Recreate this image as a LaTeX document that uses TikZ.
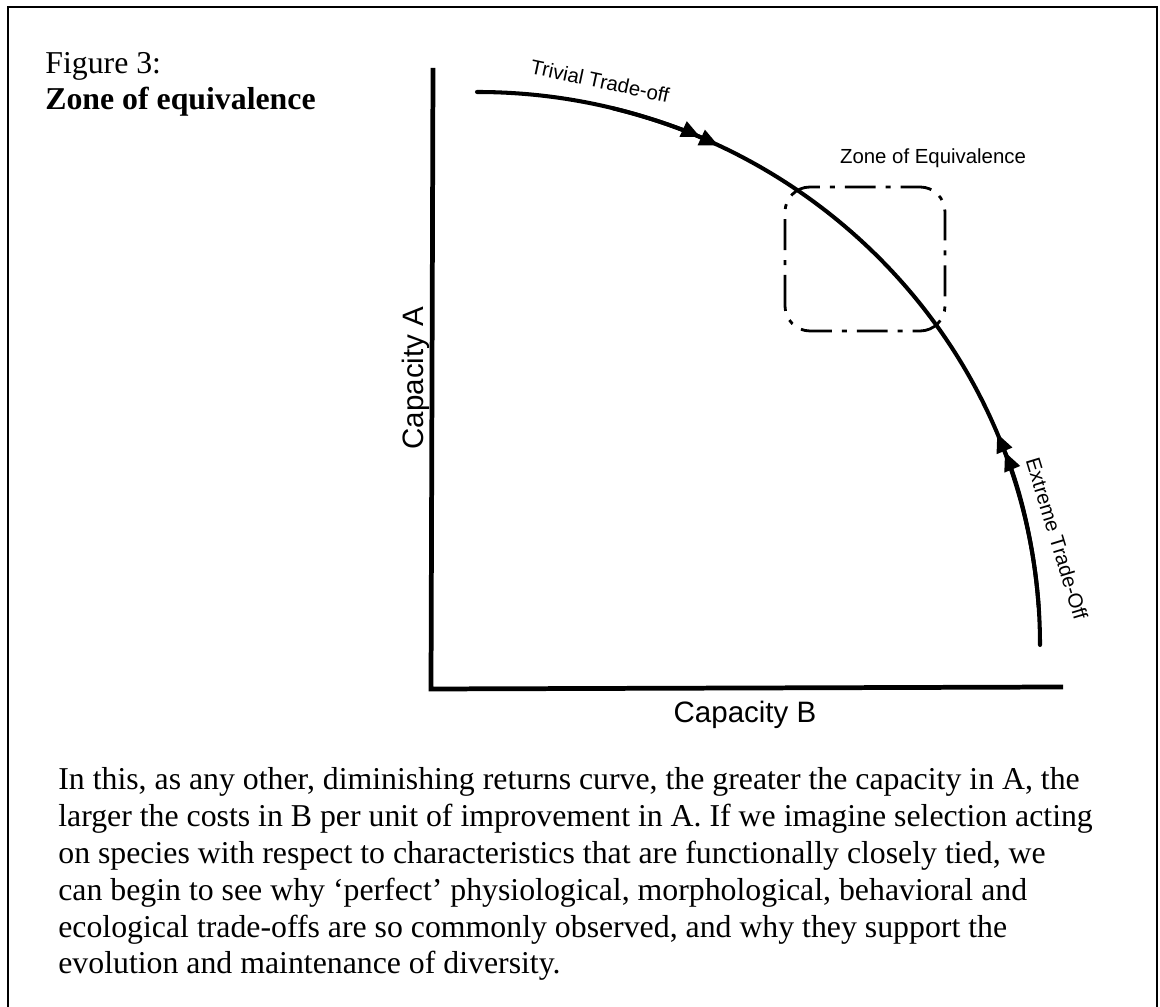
\documentclass[tikz,border=0pt]{standalone}
\usepackage{fontspec}
\setmainfont{Liberation Serif}
\newfontfamily\labelfont{Liberation Sans}
\usetikzlibrary{arrows.meta}

\begin{document}
\begin{tikzpicture}[x=0.02cm,y=0.02cm,
  outerframe/.style={line width=1.1pt},
  axisline/.style={line width=2.7pt, line join=miter},
  tradecurve/.style={line width=2.3pt, line cap=round},
  zonebox/.style={line width=1.6pt, rounded corners=0.5cm, dash pattern=on 0.62cm off 0.2cm on 0.1cm off 0.2cm},
  dbltip/.style={-{Triangle[length=0.38cm,width=0.32cm,sep=0.02cm]Triangle[length=0.38cm,width=0.32cm]}},
  bodytext/.style={font=\fontsize{18.1pt}{21pt}\selectfont, inner sep=0pt},
  sanslabel/.style={font=\labelfont\fontsize{16.8pt}{20pt}\selectfont, inner sep=0pt},
  smalllabel/.style={font=\labelfont\fontsize{11.6pt}{13pt}\selectfont, inner sep=0pt}
]
\useasboundingbox (0,0) rectangle (1160,1007);

% outer frame
\draw[outerframe] (8,0) -- (8,1000) -- (1157,1000) -- (1157,0);

% heading
\node[bodytext, anchor=base west] (fig) at (45,933) {Figure 3:};
\node[bodytext, anchor=base west] (title) at (45,897) {\bfseries Zone of equivalence};

% axes
\coordinate (ytop) at (433,939);
\coordinate (corner) at (431,318);
\coordinate (xend) at (1063,320);
\draw[axisline] (ytop) -- (corner) -- (xend);
\node[sanslabel, anchor=base] (capB) at (745,284) {Capacity B};
\node[sanslabel, rotate=90, anchor=base] (capA) at (423,629) {Capacity A};

% zone of equivalence box
\draw[zonebox] (785,676) rectangle (945,820);
\node[smalllabel, anchor=base] (zone) at (933,843) {Zone of Equivalence};

% trade-off curve
\coordinate (O) at (477,362);
\draw[tradecurve] (O) ++(90:563 and 553) arc[start angle=90, end angle=0, x radius=563, y radius=553];
\draw[tradecurve, dbltip] (O) ++(76:563 and 553) arc[start angle=76, end angle=64.6, x radius=563, y radius=553];
\draw[tradecurve, dbltip] (O) ++(4:563 and 553) arc[start angle=4, end angle=22.5, x radius=563, y radius=553];

\node[smalllabel, rotate=-12] (triv) at (600,926) {Trivial Trade-off};
\node[smalllabel, rotate=-73] (ext) at (1057,468) {Extreme Trade-Off};

% caption paragraph
\node[bodytext, anchor=base west] (l1) at (58,217) {In this, as any other, diminishing returns curve, the greater the capacity in A, the};
\node[bodytext, anchor=base west] (l2) at (58,180.2) {larger the costs in B per unit of improvement in A. If we imagine selection acting};
\node[bodytext, anchor=base west] (l3) at (58,143.4) {on species with respect to characteristics that are functionally closely tied, we};
\node[bodytext, anchor=base west] (l4) at (58,106.6) {can begin to see why ‘perfect’ physiological, morphological, behavioral and};
\node[bodytext, anchor=base west] (l5) at (58,69.8) {ecological trade-offs are so commonly observed, and why they support the};
\node[bodytext, anchor=base west] (l6) at (58,33) {evolution and maintenance of diversity.};
\end{tikzpicture}
\end{document}
